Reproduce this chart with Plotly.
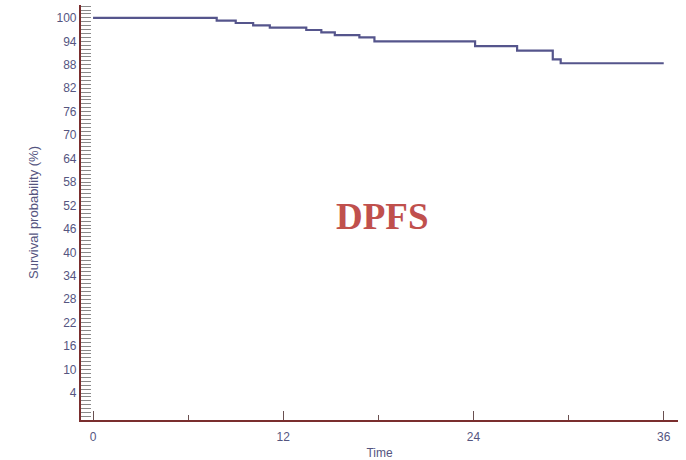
import plotly.graph_objects as go

# Kaplan-Meier style step data (time in months, survival %)
event_times = [0, 7.8, 9.0, 10.1, 11.15, 13.45, 14.4, 15.25, 16.8, 17.75, 24.1, 26.75, 29.0, 29.5, 36.0]
survival = [100, 99.3, 98.7, 98.1, 97.5, 96.9, 96.3, 95.6, 95.0, 94.0, 92.8, 91.6, 89.4, 88.4, 88.4]

x_ticks = [0, 12, 24, 36]
y_ticks = list(range(4, 101, 6))

label_color = "#55557f"
axis_color = "#7a2e2e"
tick_color = "#8a8a8a"

fig = go.Figure()
fig.add_trace(go.Scatter(
    x=event_times, y=survival, mode="lines",
    line=dict(shape="hv", color="#55558c", width=2.2),
    showlegend=False, hoverinfo="skip",
))

fig.add_annotation(
    x=0.5052, y=0.49, xref="paper", yref="paper",
    text="<b>DPFS</b>", showarrow=False,
    font=dict(family="Liberation Serif, Times New Roman, serif", size=37, color="#c0504d"),
)

fig.update_layout(
    width=686, height=460,
    margin=dict(l=81, r=8, t=5, b=40, autoexpand=False),
    paper_bgcolor="white", plot_bgcolor="white",
    font=dict(family="Liberation Sans, Arial, sans-serif", color=label_color),
    xaxis=dict(
        range=[-0.76, 36.9], tickmode="array", tickvals=x_ticks,
        ticktext=[str(v) for v in x_ticks],
        ticks="inside", ticklen=9, tickwidth=1.2, tickcolor="#6a5050",
        minor=dict(dtick=6, tick0=0, ticks="inside", ticklen=5, tickcolor="#6a5050", tickwidth=1.2),
        showline=True, linecolor=axis_color, linewidth=2.2,
        showgrid=False, zeroline=False, automargin=False,
        ticklabelstandoff=4,
        tickfont=dict(size=12, color=label_color),
        title=dict(text="Time", font=dict(size=12, color=label_color), standoff=11),
    ),
    yaxis=dict(
        range=[-2.9, 103.3], tickmode="array", tickvals=y_ticks,
        ticktext=[str(v) for v in y_ticks],
        ticks="inside", ticklen=10, tickwidth=1.2, tickcolor=tick_color,
        minor=dict(dtick=1, tick0=0, ticks="inside", ticklen=10, tickcolor=tick_color, tickwidth=1.1),
        showline=True, linecolor=axis_color, linewidth=2.2,
        showgrid=False, zeroline=False, automargin=False,
        tickfont=dict(size=12, color=label_color),
        title=dict(text="Survival probability (%)", font=dict(size=13, color=label_color), standoff=15),
    ),
)

fig.write_html("out.html", config={"displayModeBar": False},
               post_script="document.body.style.margin='0';")
